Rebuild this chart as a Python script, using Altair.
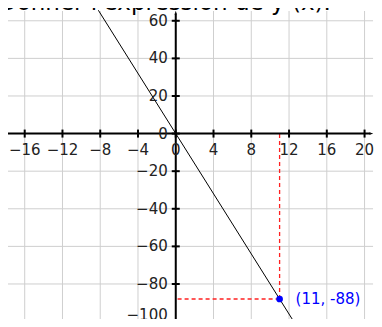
import altair as alt
import pandas as pd

# ---- data ----
title_text = "Donner l'expression de y (x)."
x_ticks = [-16, -12, -8, -4, 0, 4, 8, 12, 16, 20]
x_labels = ["−16", "−12", "−8", "−4", "0", "4", "8", "12", "16", "20"]
y_ticks = [60, 40, 20, 0, -20, -40, -60, -80, -100]
y_labels = ["60", "40", "20", "0", "−20", "−40", "−60", "−80", "−100"]
line_x = [-8.2, 12.85]
line_y = [65.6, -102.8]
point_x = [11]
point_y = [-88]
point_label = ["(11, -88)"]

# axis extents (data units)
X_MIN, X_MAX = -18, 20.9
Y_MIN, Y_MAX = -102.8, 65.2

FONT = "DejaVu Sans"

xs = alt.Scale(domain=[-17.77, 21.0], nice=False, zero=False)
ys = alt.Scale(domain=[-98.63, 66.8], nice=False, zero=False)

one = pd.DataFrame({"k": [0]})
xt = pd.DataFrame({"v": x_ticks, "lab": x_labels})
yt = pd.DataFrame({"v": y_ticks, "lab": y_labels})
yt_main = yt[yt["v"] > min(y_ticks)]
yt_edge = yt[yt["v"] == min(y_ticks)]
ln = pd.DataFrame({"x": line_x, "y": line_y})
pt = pd.DataFrame({"x": point_x, "y": point_y, "lab": point_label})

GRID = "#cfcfcf"

grid_v = alt.Chart(xt).mark_rule(color=GRID, strokeWidth=1).encode(
    x=alt.X("v:Q", scale=xs, axis=None),
    y=alt.Y(datum=Y_MIN, type="quantitative", scale=ys, axis=None),
    y2=alt.datum(Y_MAX),
)
grid_h = alt.Chart(yt).mark_rule(color=GRID, strokeWidth=1).encode(
    y=alt.Y("v:Q", scale=ys, axis=None),
    x=alt.X(datum=X_MIN, type="quantitative", scale=xs, axis=None),
    x2=alt.datum(X_MAX),
)

dash_v = alt.Chart(pt).mark_rule(color="#ff2020", strokeWidth=1.3, strokeDash=[4, 3]).encode(
    x=alt.X("x:Q", scale=xs), y=alt.Y("y:Q", scale=ys), y2=alt.datum(0)
)
dash_h = alt.Chart(pt).mark_rule(color="#ff2020", strokeWidth=1.3, strokeDash=[4, 3]).encode(
    y=alt.Y("y:Q", scale=ys), x=alt.X("x:Q", scale=xs), x2=alt.datum(0)
)

line = alt.Chart(ln).mark_line(color="black", strokeWidth=1).encode(
    x=alt.X("x:Q", scale=xs), y=alt.Y("y:Q", scale=ys)
)

axis_x = alt.Chart(one).mark_rule(color="black", strokeWidth=2).encode(
    y=alt.Y(datum=0, type="quantitative", scale=ys),
    x=alt.X(datum=X_MIN, type="quantitative", scale=xs),
    x2=alt.datum(X_MAX - 0.3),
)
axis_y = alt.Chart(one).mark_rule(color="black", strokeWidth=2).encode(
    x=alt.X(datum=0, type="quantitative", scale=xs),
    y=alt.Y(datum=Y_MIN, type="quantitative", scale=ys),
    y2=alt.datum(Y_MAX - 1.5),
)

arrow_up = alt.Chart(one).mark_point(
    shape="M0,0 L0.75,2.2 L0,1.6 L-0.75,2.2 Z", filled=True, color="black",
    opacity=1, size=12, strokeWidth=0.5,
).encode(
    x=alt.X(datum=0, type="quantitative", scale=xs),
    y=alt.Y(datum=Y_MAX, type="quantitative", scale=ys),
)
arrow_right = alt.Chart(one).mark_point(
    shape="M0,0 L-2.2,-0.75 L-1.6,0 L-2.2,0.75 Z", filled=True, color="black",
    opacity=1, size=12, strokeWidth=0.5,
).encode(
    x=alt.X(datum=X_MAX, type="quantitative", scale=xs),
    y=alt.Y(datum=0, type="quantitative", scale=ys),
)

ticks_x = alt.Chart(xt).mark_tick(orient="vertical", size=8, thickness=2, color="black", opacity=1).encode(
    x=alt.X("v:Q", scale=xs),
    y=alt.Y(datum=0, type="quantitative", scale=ys),
)
ticks_y = alt.Chart(yt).mark_tick(orient="horizontal", size=8, thickness=2, color="black", opacity=1).encode(
    y=alt.Y("v:Q", scale=ys),
    x=alt.X(datum=0, type="quantitative", scale=xs),
)

labels_x = alt.Chart(xt).mark_text(
    font=FONT, fontSize=15, color="#222", align="center", baseline="middle", dy=16
).encode(
    x=alt.X("v:Q", scale=xs),
    y=alt.Y(datum=0, type="quantitative", scale=ys),
    text="lab:N",
)
labels_y = alt.Chart(yt_main).mark_text(
    font=FONT, fontSize=15, color="#222", align="right", baseline="middle", dx=-8
).encode(
    y=alt.Y("v:Q", scale=ys),
    x=alt.X(datum=0, type="quantitative", scale=xs),
    text="lab:N",
)
labels_y_edge = alt.Chart(yt_edge).mark_text(
    font=FONT, fontSize=15, color="#222", align="right", baseline="alphabetic", dx=-8, dy=-2
).encode(
    y=alt.Y("v:Q", scale=ys),
    x=alt.X(datum=0, type="quantitative", scale=xs),
    text="lab:N",
)

point = alt.Chart(pt).mark_circle(size=45, color="blue", opacity=1).encode(
    x=alt.X("x:Q", scale=xs), y=alt.Y("y:Q", scale=ys)
)
point_text = alt.Chart(pt).mark_text(
    font=FONT, fontSize=15, color="blue", align="left", baseline="middle", dx=16
).encode(
    x=alt.X("x:Q", scale=xs), y=alt.Y("y:Q", scale=ys), text="lab:N"
)

title = alt.Chart(pd.DataFrame({"t": [title_text]})).mark_text(
    font=FONT, fontSize=23, color="black", align="left", baseline="alphabetic"
).encode(x=alt.value(-9), y=alt.value(2), text="t:N")

chart = alt.layer(
    grid_v, grid_h, dash_v, dash_h, line, axis_x, axis_y, arrow_up, arrow_right,
    ticks_x, ticks_y, labels_x, labels_y, labels_y_edge, point, point_text, title
).properties(
    width=366, height=311, padding=0,
    autosize=alt.AutoSizeParams(type="none"),
).configure_view(strokeWidth=0)

chart.save("out.html", embed_options={"renderer": "svg", "actions": False})
